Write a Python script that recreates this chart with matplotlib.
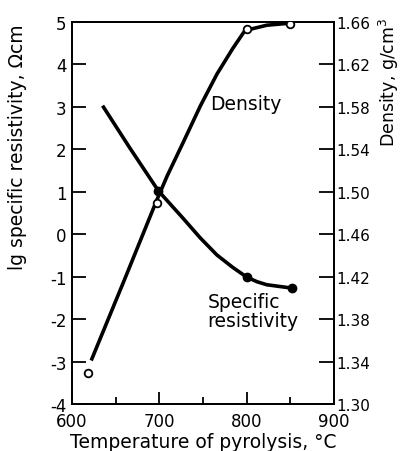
import matplotlib
matplotlib.use("Agg")
import matplotlib.pyplot as plt
import numpy as np

plt.rcParams['font.family'] = ['DejaVu Sans']
plt.rcParams['axes.unicode_minus'] = False

# Density curve, g/cm3
dens_curve_t = [622, 660, 697, 709, 727, 747, 766, 784, 798, 823, 850]
dens_curve_v = [1.341, 1.417, 1.492, 1.515, 1.546, 1.581, 1.611, 1.635, 1.652, 1.657, 1.659]
# Density measured points (open circles)
dens_pts_t = [618, 697, 800, 850]
dens_pts_v = [1.329, 1.489, 1.653, 1.658]

# Specific resistivity curve (lg, Ohm cm)
res_curve_t = [635, 666, 699, 727, 747, 766, 784, 800, 812, 823, 852]
res_curve_v = [3.03, 2.04, 1.02, 0.38, -0.09, -0.49, -0.78, -1.01, -1.12, -1.19, -1.27]
# Resistivity measured points (filled)
res_pts_t = [699, 800, 852]
res_pts_v = [1.02, -1.01, -1.27]

x_ticks = [600, 700, 800, 900]
x_minor = [650, 750, 850]
left_ticks = [5, 4, 3, 2, 1, 0, -1, -2, -3, -4]
right_ticks = [1.30, 1.34, 1.38, 1.42, 1.46, 1.50, 1.54, 1.58, 1.62, 1.66]

fig = plt.figure(figsize=(4.0, 4.52), dpi=100)
ax = fig.add_axes([0.18, 0.104, 0.655, 0.845])
ax2 = ax.twinx()

ax.set_xlim(600, 900)
ax.set_ylim(-4, 5)
ax2.set_ylim(1.30, 1.66)

ax.plot(res_curve_t, res_curve_v, color='black', lw=2.6, solid_capstyle='butt',
        solid_joinstyle='round', zorder=3)
ax.plot(res_pts_t, res_pts_v, 'o', color='black', ms=6, zorder=4)

ax2.plot(dens_curve_t, dens_curve_v, color='black', lw=2.6, solid_capstyle='butt',
         solid_joinstyle='round', zorder=3)
ax2.plot(dens_pts_t, dens_pts_v, 'o', mfc='white', mec='black', mew=1.3, ms=5.5, zorder=4)

ax.set_xticks(x_ticks)
ax.set_xticks(x_minor, minor=True)
ax.set_yticks(left_ticks)
ax.set_yticklabels([str(v) for v in left_ticks])
ax2.set_yticks(right_ticks)
ax2.set_yticklabels([f"{v:.2f}" for v in right_ticks])

ax.tick_params(axis='x', which='major', direction='in', length=9, width=1.3, labelsize=12, pad=6)
ax.tick_params(axis='x', which='minor', direction='in', length=5, width=1.3)
ax.tick_params(axis='y', direction='in', length=10, width=1.3, labelsize=12, pad=4)
ax2.tick_params(axis='y', direction='in', length=11, width=1.3, labelsize=11, pad=2)

for a in (ax, ax2):
    for s in a.spines.values():
        s.set_linewidth(1.3)

ax.set_xlabel('Temperature of pyrolysis, °C', fontsize=13.5, labelpad=1)
fig.text(18 / 400, 1 - 147 / 452, 'lg specific resistivity, Ωcm', fontsize=13.5,
         rotation=90, ha='center', va='center')
fig.text(389 / 400, 1 - 82 / 452, 'Density, g/cm$^3$', fontsize=12.5,
         rotation=90, ha='center', va='center')

ax.text(758, 3.07, 'Density', fontsize=13.5, ha='left', va='center')
ax.text(755, -1.81, 'Specific\nresistivity', fontsize=13.5, ha='left', va='center', linespacing=0.95)

fig.savefig('out.png', dpi=100)
